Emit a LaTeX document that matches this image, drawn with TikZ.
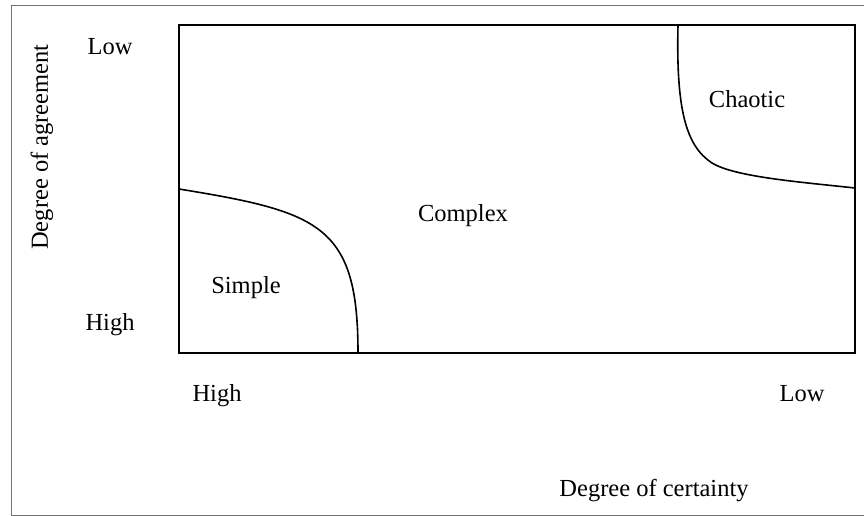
\documentclass[tikz,border=0pt]{standalone}
\usepackage{fontspec}
\setmainfont{Liberation Serif}
\usepackage{tikz}
\usetikzlibrary{positioning}

\begin{document}
\begin{tikzpicture}[
  x=1pt, y=-1pt,
  font=\fontsize{24.5}{28}\selectfont,
  frame/.style={draw=black!55,line width=.8pt},
  field/.style={draw=black,line width=1.8pt},
  border/.style={draw=black,line width=1.6pt},
  lbl/.style={inner sep=0pt,anchor=base}]
\useasboundingbox (0,0) rectangle (864,516);

% outer frame
\draw[frame] (864,5) -- (11,5) -- (11,515) -- (864,515);

% the field
\coordinate (nw) at (179,25);
\coordinate (se) at (855,353);
\draw[field] (nw) rectangle (se);

% region borders
\coordinate (simpleA) at (179,189);
\coordinate (simpleB) at (358,353);
\coordinate (chaosA) at (678,25);
\coordinate (chaosM) at (712,163);
\coordinate (chaosB) at (855,188);
\draw[border] (simpleA) .. controls (320,212) and (358,225) .. (simpleB);
\draw[border] (chaosA) .. controls (676,110) and (686,146) .. (chaosM)
  .. controls (735,177) and (800,182) .. (chaosB);

\node[lbl] (simple)  at (246,293) {Simple};
\node[lbl] (complex) at (463,221) {Complex};
\node[lbl] (chaotic) at (747,108) {Chaotic};

% axes
\node[lbl] (lowAgree)  at (110,55)  {Low};
\node[lbl] (highAgree) at (110,330) {High};
\node[inner sep=0pt,rotate=90] (agreeAxis) at (42,147) {Degree of agreement};
\node[lbl] (highCert) at (217,401) {High};
\node[lbl] (lowCert)  at (802,401) {Low};
\node[lbl] (certAxis) at (654,496) {Degree of certainty};
\end{tikzpicture}
\end{document}
